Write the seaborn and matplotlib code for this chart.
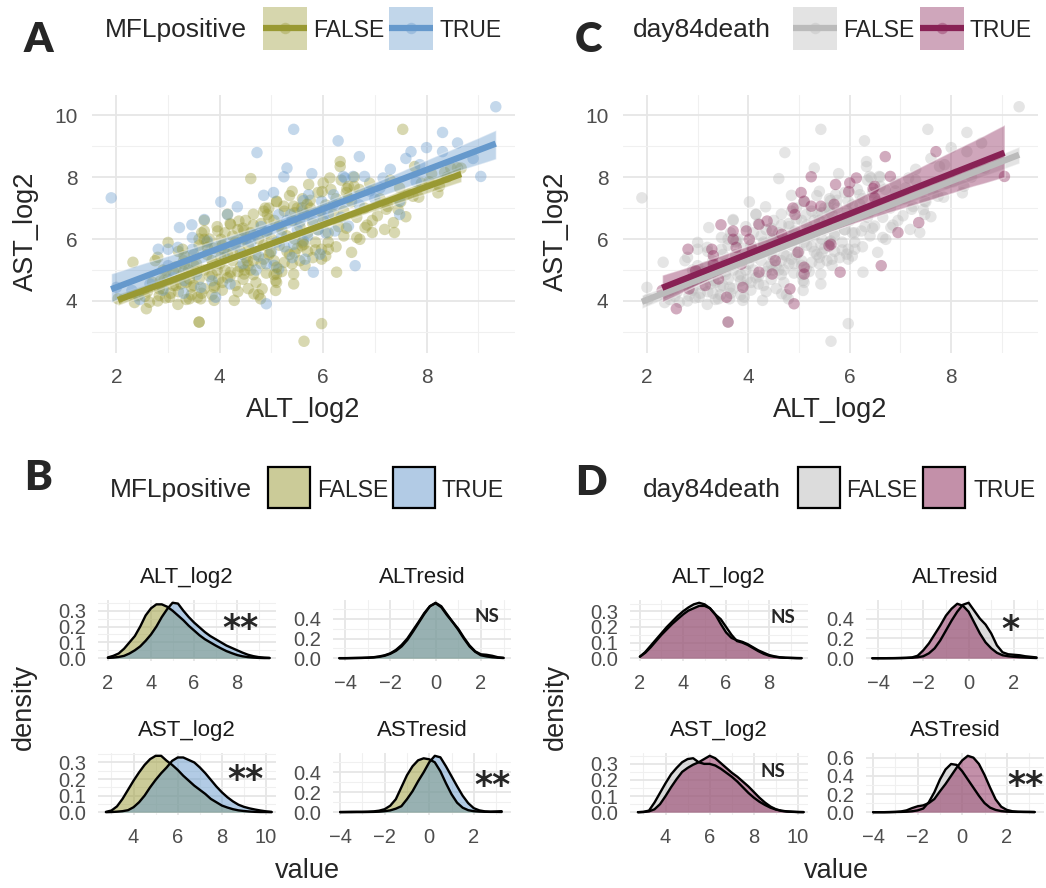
import numpy as np
import pandas as pd
import matplotlib
matplotlib.use("Agg")
import matplotlib.pyplot as plt
import seaborn as sns
from matplotlib.patches import Rectangle
from matplotlib.collections import PolyCollection
from matplotlib.colors import to_rgba
from matplotlib.ticker import MultipleLocator

# ---------------- scatter data: (ALT_log2, AST_log2) per patient group ----------------
# MFLpositive FALSE, day84death FALSE
ff_points = [
    (7.54, 9.54), (6.33, 8.34), (4.60, 7.95), (7.77, 8.34), (8.67, 8.29), (8.22, 7.49),
    (7.22, 6.96), (7.60, 6.72), (7.19, 6.31), (7.38, 6.21), (6.81, 6.37), (6.71, 5.99),
    (6.55, 5.57), (6.26, 4.93), (5.97, 5.67), (6.10, 5.67), (5.97, 5.35), (5.97, 3.27),
    (5.63, 2.70), (3.60, 3.32), (2.32, 5.25), (3.00, 5.89), (2.80, 5.41), (5.43, 4.55),
    (5.43, 4.87), (5.08, 4.34), (4.79, 4.07), (4.66, 4.23), (4.28, 4.02), (3.89, 4.02),
    (3.63, 4.07), (3.41, 4.07), (3.19, 3.89), (3.03, 4.12), (2.83, 4.18), (2.64, 3.96),
    (2.42, 4.18), (2.03, 4.07), (5.08, 4.66), (7.48, 7.65), (8.25, 7.70), (8.47, 8.29),
    (7.74, 7.38), (6.33, 8.50), (5.40, 7.54), (5.59, 7.01),
    (2.60, 4.30), (2.70, 4.60), (2.80, 4.00), (2.90, 4.40), (2.90, 5.00), (3.00, 4.70),
    (2.75, 5.30), (2.95, 4.10), (3.10, 4.50), (3.15, 5.10), (3.20, 4.30), (3.25, 4.80),
    (3.30, 5.30), (3.35, 4.60), (3.40, 5.00), (3.45, 4.20), (3.50, 5.50), (3.20, 5.60),
    (3.35, 4.05), (3.45, 4.90), (3.10, 4.95), (3.50, 4.50), (3.55, 5.20), (3.60, 4.70),
    (3.60, 5.80), (3.65, 6.20), (3.70, 4.40), (3.70, 5.00), (3.75, 5.50), (3.80, 4.80),
    (3.80, 6.00), (3.85, 5.30), (3.90, 4.50), (3.90, 5.70), (3.95, 6.40), (3.95, 5.00),
    (3.60, 6.00), (3.70, 6.60), (3.85, 4.20), (3.98, 4.70), (3.55, 4.95), (3.75, 5.90),
    (4.00, 5.20), (4.05, 5.80), (4.05, 4.60), (4.10, 6.20), (4.10, 5.00), (4.15, 5.50),
    (4.20, 4.80), (4.20, 6.50), (4.25, 5.30), (4.30, 5.90), (4.30, 4.50), (4.35, 6.30),
    (4.40, 5.10), (4.40, 5.60), (4.45, 6.00), (4.45, 4.70), (4.50, 6.60), (4.50, 5.40),
    (4.15, 6.80), (4.35, 4.30), (4.25, 6.10), (4.48, 5.00), (4.55, 5.80), (4.60, 5.00),
    (4.60, 6.20), (4.65, 6.80), (4.70, 5.50), (4.70, 4.60), (4.75, 6.00), (4.80, 5.20),
    (4.80, 6.50), (4.85, 5.80), (4.90, 4.90), (4.90, 6.20), (4.95, 5.50), (4.95, 7.00),
    (4.55, 4.40), (4.75, 4.20), (4.85, 6.90), (4.65, 5.30), (5.00, 6.00), (5.05, 5.30),
    (5.05, 6.60), (5.10, 7.20), (5.15, 5.80), (5.20, 6.30), (5.20, 4.95), (5.25, 6.90),
    (5.30, 5.60), (5.30, 6.10), (5.35, 7.40), (5.40, 6.60), (5.40, 5.20), (5.45, 6.00),
    (5.50, 7.00), (5.50, 5.70), (5.10, 4.60), (5.35, 5.50), (5.55, 6.40), (5.60, 7.30),
    (5.60, 5.90), (5.65, 6.80), (5.70, 6.20), (5.70, 5.60), (5.75, 7.00), (5.80, 6.50),
    (5.85, 5.90), (5.90, 7.50), (5.90, 6.30), (5.95, 6.90), (5.55, 5.30), (5.80, 5.40),
    (6.00, 6.60), (6.05, 7.10), (6.10, 6.20), (6.15, 7.60), (6.20, 6.80), (6.25, 7.30),
    (6.30, 6.40), (6.35, 7.90), (6.40, 6.90), (6.45, 7.50), (6.10, 5.90), (6.40, 6.10),
    (6.55, 7.20), (6.60, 8.00), (6.65, 6.70), (6.70, 7.60), (6.80, 7.00), (6.90, 7.80),
    (6.95, 6.60), (6.60, 7.70), (7.10, 7.30), (7.30, 7.90), (7.50, 7.20), (7.90, 7.80),
    (8.10, 8.10), (8.40, 8.00), (8.60, 8.30),
    (3.05, 4.25), (3.25, 4.55), (3.45, 4.45), (3.65, 4.25), (3.85, 4.85), (4.05, 4.35),
    (4.15, 4.75), (4.35, 4.95), (4.55, 5.15), (4.65, 4.85), (4.85, 5.35), (5.05, 4.85),
    (5.25, 5.25), (5.45, 5.55), (5.65, 5.15), (5.85, 5.65), (6.05, 5.45), (6.25, 5.75),
    (6.45, 6.35), (6.65, 6.05), (6.85, 6.45), (7.05, 6.75), (7.25, 7.05), (7.45, 6.95),
    (7.65, 7.45), (7.85, 7.35), (8.05, 7.85), (8.35, 8.15), (4.25, 5.55), (4.45, 6.35),
    (4.65, 6.45), (4.95, 6.65), (5.15, 6.45), (5.45, 6.85), (5.75, 7.25), (3.50, 5.15),
    (3.30, 4.95), (2.85, 4.65), (2.55, 4.15), (2.35, 3.95),
]
# MFLpositive TRUE, day84death FALSE
tf_points = [
    (1.90, 7.33), (5.43, 9.54), (9.34, 10.27), (8.31, 9.44), (6.29, 9.17), (4.72, 8.79),
    (8.31, 8.82), (5.30, 8.29), (5.78, 8.11), (6.39, 8.02), (4.02, 7.20), (4.34, 7.04),
    (4.85, 7.41), (3.70, 6.63), (3.22, 6.37), (3.00, 5.67), (3.47, 5.67), (3.19, 5.73),
    (3.76, 5.94), (5.62, 7.24), (5.72, 7.43), (5.97, 7.22), (6.20, 7.43), (6.42, 7.97),
    (6.58, 8.02), (7.16, 7.97), (7.48, 7.22), (7.48, 6.79), (6.49, 6.42), (3.92, 4.12),
    (5.43, 5.83), (4.92, 6.26), (4.44, 5.51), (5.14, 6.79), (5.37, 6.79), (6.00, 6.69),
    (6.23, 6.26), (5.94, 5.51), (4.15, 6.79), (3.47, 6.05), (3.31, 4.66), (2.00, 4.44),
    (3.63, 4.44), (5.62, 5.94), (7.10, 7.65), (6.20, 7.12), (7.87, 8.40), (5.14, 5.03),
    (3.00, 5.14), (4.60, 5.90), (4.80, 6.40), (5.00, 5.60), (5.20, 6.10), (5.30, 6.60),
    (5.50, 6.30), (5.60, 6.90), (5.80, 6.60), (4.90, 5.20), (5.10, 5.90), (5.40, 5.40),
    (5.70, 6.10), (4.50, 6.00), (5.90, 6.30), (6.10, 6.80), (4.30, 5.80), (4.10, 5.40),
    (4.70, 5.00), (5.25, 5.75), (5.55, 6.55),
    (2.45, 4.05), (2.65, 4.55), (2.90, 4.35), (3.10, 4.75), (3.30, 4.25), (3.55, 4.85),
    (3.85, 4.65), (4.20, 4.55), (4.45, 5.20), (4.75, 5.45), (5.05, 5.15), (5.65, 5.35),
    (6.05, 6.20), (6.35, 6.70), (6.70, 7.10), (7.00, 7.30), (7.30, 8.25), (7.60, 8.60),
    (8.00, 8.95), (8.60, 9.10), (8.90, 8.60), (6.90, 7.55), (7.80, 7.85),
]
# MFLpositive FALSE, day84death TRUE
ft_points = [
    (5.72, 7.76), (6.00, 7.81), (6.13, 7.97), (6.49, 7.70), (6.49, 7.33), (5.10, 7.22),
    (5.24, 7.06), (5.43, 7.06), (4.88, 7.00), (4.92, 6.79), (5.69, 7.12), (6.95, 6.21),
    (7.36, 6.53), (5.59, 5.78), (4.98, 5.57), (5.10, 5.09), (4.82, 4.39), (4.53, 5.30),
    (4.47, 4.87), (4.21, 4.93), (3.89, 4.44), (3.60, 3.32), (3.57, 4.12), (3.41, 4.71),
    (3.31, 5.19), (3.31, 5.46), (3.28, 5.67), (3.70, 6.26), (3.70, 5.99), (3.96, 6.26),
    (4.02, 5.99), (4.21, 6.47), (4.37, 6.58), (4.47, 6.26), (4.08, 5.67), (4.02, 5.41),
    (3.76, 5.73), (2.96, 4.98), (2.92, 4.66), (2.83, 4.39), (2.58, 3.75), (3.15, 4.50),
    (3.86, 5.19), (5.10, 4.87), (5.98, 7.53), (6.46, 7.63), (5.63, 5.83),
]
# MFLpositive TRUE, day84death TRUE
tt_points = [
    (9.05, 8.02), (7.70, 8.82), (6.70, 8.66), (5.24, 8.01), (6.80, 8.02), (5.04, 7.50),
    (6.62, 5.14), (5.81, 4.93), (4.90, 3.91), (3.46, 6.46), (4.66, 6.15), (2.81, 5.67),
    (2.30, 4.34),
]

# ---------------- density curves (value grid, density per group) ----------------
alt_grid = [2.0, 2.25, 2.5, 2.75, 3.0, 3.25, 3.5, 3.75, 4.0, 4.25, 4.5, 4.75, 5.0, 5.25, 5.5,
            5.75, 6.0, 6.25, 6.5, 6.75, 7.0, 7.25, 7.5, 7.75, 8.0, 8.25, 8.5, 8.75, 9.0, 9.25, 9.5]
ast_grid = [2.75, 3.0, 3.25, 3.5, 3.75, 4.0, 4.25, 4.5, 4.75, 5.0, 5.25, 5.5, 5.75, 6.0, 6.25,
            6.5, 6.75, 7.0, 7.25, 7.5, 7.75, 8.0, 8.25, 8.5, 8.75, 9.0, 9.25, 9.5, 9.75, 10.0, 10.25]
altres_grid = [-4.25, -4.0, -3.75, -3.5, -3.25, -3.0, -2.75, -2.5, -2.25, -2.0, -1.75, -1.5,
               -1.25, -1.0, -0.75, -0.5, -0.25, 0.0, 0.25, 0.5, 0.75, 1.0, 1.25, 1.5, 1.75,
               2.0, 2.25, 2.5, 2.75, 3.0]
astres_grid = [-4.0, -3.75, -3.5, -3.25, -3.0, -2.75, -2.5, -2.25, -2.0, -1.75, -1.5, -1.25,
               -1.0, -0.75, -0.5, -0.25, 0.0, 0.25, 0.5, 0.75, 1.0, 1.25, 1.5, 1.75, 2.0,
               2.25, 2.5, 2.75, 3.0, 3.25]

# panel B (MFLpositive)
b_alt_false = [.005, .015, .03, .06, .10, .14, .20, .27, .315, .34, .34, .325, .30, .27, .24, .205,
               .175, .145, .12, .10, .08, .062, .045, .032, .02, .012, .007, .004, .002, .001, .001]
b_alt_true = [.002, .004, .008, .015, .03, .05, .075, .11, .15, .20, .26, .31, .35, .345, .30, .26,
              .225, .195, .165, .14, .12, .10, .08, .065, .05, .035, .022, .013, .007, .004, .002]
b_ast_false = [.002, .01, .035, .08, .135, .19, .24, .285, .32, .34, .34, .31, .285, .255, .22, .19,
               .16, .135, .11, .08, .06, .04, .028, .018, .011, .007, .004, .002, .001, .001, 0]
b_ast_true = [0, .001, .003, .006, .012, .03, .06, .10, .15, .195, .235, .27, .31, .33, .33, .315,
              .30, .27, .235, .195, .155, .12, .09, .065, .045, .032, .023, .016, .01, .005, .002]
b_altres_false = [.001, .001, .002, .003, .004, .006, .01, .018, .03, .05, .085, .135, .20, .285, .37,
                  .46, .53, .56, .52, .44, .37, .30, .21, .13, .07, .04, .035, .025, .01, .004]
b_altres_true = [0, 0, .001, .002, .003, .005, .008, .014, .025, .045, .075, .12, .185, .27, .36,
                 .45, .53, .565, .53, .45, .37, .29, .20, .12, .065, .03, .018, .01, .005, .002]
b_astres_false = [.002, .003, .004, .004, .004, .005, .008, .015, .03, .065, .13, .25, .37, .46, .52,
                  .54, .53, .50, .41, .29, .18, .095, .045, .02, .01, .006, .004, .003, .003, .002]
b_astres_true = [0, 0, 0, .001, .001, .002, .003, .005, .01, .018, .035, .06, .13, .21, .31, .40,
                 .50, .565, .55, .46, .36, .26, .165, .09, .04, .018, .008, .005, .007, .01]

# panel D (day84death)
d_alt_false = [.01, .04, .08, .12, .16, .20, .235, .27, .30, .325, .345, .355, .345, .32, .28, .25,
               .20, .15, .11, .10, .085, .065, .045, .028, .016, .009, .005, .003, .002, .001, .001]
d_alt_true = [.01, .035, .07, .11, .15, .185, .22, .25, .28, .305, .32, .335, .335, .32, .28, .22,
              .165, .13, .115, .105, .09, .07, .05, .035, .02, .012, .006, .003, .002, .001, 0]
d_ast_false = [0, .002, .01, .06, .12, .18, .235, .275, .31, .33, .335, .31, .30, .30, .29, .27,
               .245, .22, .19, .155, .12, .09, .065, .045, .028, .016, .009, .005, .003, .001, .001]
d_ast_true = [0, .001, .005, .018, .05, .10, .155, .205, .25, .275, .295, .31, .33, .35, .335, .305,
              .275, .245, .22, .19, .16, .125, .09, .06, .035, .018, .008, .004, .002, .001, 0]
d_altres_false = [0, 0, 0, .001, .001, .002, .003, .005, .01, .02, .05, .10, .18, .28, .38, .47,
                  .54, .56, .48, .40, .34, .25, .13, .06, .04, .035, .03, .02, .014, .008]
d_altres_true = [0, 0, 0, 0, .001, .002, .004, .008, .025, .08, .15, .24, .33, .43, .50, .55,
                 .53, .47, .36, .25, .16, .10, .055, .03, .02, .014, .01, .007, .004, .002]
d_astres_false = [0, 0, 0, .001, .002, .003, .005, .01, .02, .04, .11, .22, .36, .47, .53, .52,
                  .45, .36, .27, .18, .10, .05, .025, .012, .006, .004, .003, .003, .003, .002]
d_astres_true = [0, 0, 0, .001, .003, .008, .02, .045, .065, .075, .10, .145, .23, .31, .40, .49,
                 .57, .62, .60, .53, .41, .27, .14, .06, .025, .01, .005, .003, .002, .001]

facet_names = ["ALT_log2", "ALTresid", "AST_log2", "ASTresid"]
b_marks = ["**", "NS", "**", "**"]
d_marks = ["NS", "*", "NS", "**"]

mfl_colors = {"FALSE": "#999933", "TRUE": "#6699CC"}
death_colors = {"FALSE": "#BBBBBB", "TRUE": "#882255"}

# ---------------- long table for the scatter panels ----------------
rows = []
for pts, mfl, death in [(ff_points, "FALSE", "FALSE"), (tf_points, "TRUE", "FALSE"),
                        (ft_points, "FALSE", "TRUE"), (tt_points, "TRUE", "TRUE")]:
    for a, s in pts:
        rows.append({"ALT_log2": a, "AST_log2": s, "MFLpositive": mfl, "day84death": death})
df = pd.DataFrame(rows)

W, H = 1046, 888
sns.set_style("white")
plt.rcParams["font.family"] = ["Liberation Sans", "DejaVu Sans"]
fig = plt.figure(figsize=(W / 100, H / 100), dpi=100)


def px_axes(l, t, r, b):
    return fig.add_axes([l / W, 1 - b / H, (r - l) / W, (b - t) / H])


def style(ax, xmaj, ymaj, size, xpad, ypad):
    ax.xaxis.set_major_locator(MultipleLocator(xmaj))
    ax.xaxis.set_minor_locator(MultipleLocator(xmaj / 2))
    ax.yaxis.set_major_locator(MultipleLocator(ymaj))
    ax.yaxis.set_minor_locator(MultipleLocator(ymaj / 2))
    ax.grid(which="major", color="#E6E6E6", lw=1.3)
    ax.grid(which="minor", color="#F0F0F0", lw=0.8)
    ax.set_axisbelow(True)
    for sp in ax.spines.values():
        sp.set_visible(False)
    ax.tick_params(which="both", length=0, labelsize=size, labelcolor="#4D4D4D")
    ax.tick_params(axis="x", pad=xpad)
    ax.tick_params(axis="y", pad=ypad)
    ax.set_xlabel("")
    ax.set_ylabel("")


def scatter_panel(ax, group, colors):
    order = ["FALSE", "TRUE"]
    sns.scatterplot(data=df, x="ALT_log2", y="AST_log2", hue=group, hue_order=order,
                    palette=colors, s=68, alpha=0.38, edgecolor="none", legend=False, ax=ax)
    for lvl in order:
        sub = df[df[group] == lvl]
        sns.regplot(data=sub, x="ALT_log2", y="AST_log2", scatter=False, color=colors[lvl],
                    seed=1, ax=ax, line_kws={"linewidth": 4.5, "solid_capstyle": "butt"})
    for coll in ax.collections:
        if isinstance(coll, PolyCollection):
            coll.set_alpha(0.4)
    x0, x1 = df["ALT_log2"].min(), df["ALT_log2"].max()
    y0, y1 = df["AST_log2"].min(), df["AST_log2"].max()
    ax.set_xlim(x0 - 0.05 * (x1 - x0), x1 + 0.05 * (x1 - x0))
    ax.set_ylim(y0 - 0.05 * (y1 - y0), y1 + 0.05 * (y1 - y0))
    style(ax, 2, 2, 15, 10.5, 10.5)


def density_facet(ax, grid, curves, colors, xlim, ystep):
    for dens, col in zip(curves, colors):
        ax.fill_between(grid, dens, color=col, alpha=0.5, lw=0)
        sns.lineplot(x=grid, y=dens, color="black", lw=1.7, ax=ax, sort=False)
    top = max(max(c) for c in curves)
    ax.set_xlim(*xlim)
    ax.set_ylim(-0.05 * top, 1.05 * top)
    style(ax, 2, ystep, 14.5, 9, 8.5)


# ---------------- panels A and C ----------------
axA = px_axes(92, 95, 515, 353)
scatter_panel(axA, "MFLpositive", mfl_colors)
axC = px_axes(623, 95, 1038, 353)
scatter_panel(axC, "day84death", death_colors)

# ---------------- panels B and D ----------------
grids = [alt_grid, altres_grid, ast_grid, astres_grid]
xlims = [(1.54, 9.8), (-4.53, 3.33), (2.39, 10.45), (-4.32, 3.67)]
ysteps = [0.1, 0.2, 0.1, 0.2]
b_curves = [(b_alt_false, b_alt_true), (b_altres_false, b_altres_true),
            (b_ast_false, b_ast_true), (b_astres_false, b_astres_true)]
d_curves = [(d_alt_false, d_alt_true), (d_altres_false, d_altres_true),
            (d_ast_false, d_ast_true), (d_astres_false, d_astres_true)]
cells = [(0, 600, 661), (1, 600, 661), (0, 753, 815), (1, 753, 815)]

ov = fig.add_axes([0, 0, 1, 1], zorder=10)
ov.set_xlim(0, W)
ov.set_ylim(H, 0)
ov.axis("off")

mark_pos_b = [(240, 622), (487, 616), (245, 773), (492, 779)]
mark_pos_d = [(783, 617), (1010, 623), (773, 771), (1025, 779)]

for lefts, curves, colors, marks, mpos in [
        ((98, 333), b_curves, mfl_colors, b_marks, mark_pos_b),
        ((630, 866), d_curves, death_colors, d_marks, mark_pos_d)]:
    for i, (col, top, bot) in enumerate(cells):
        l = lefts[col]
        ax = px_axes(l, top, l + 178, bot)
        density_facet(ax, grids[i], curves[i], [colors["FALSE"], colors["TRUE"]], xlims[i], ysteps[i])
        ov.text(l + 89, top - 17, facet_names[i], ha="center", va="baseline", fontsize=16,
                color="#1A1A1A")
        mx, my = mpos[i]
        if marks[i] == "NS":
            ov.text(mx, my, "NS", ha="center", va="center", fontsize=13.5, fontweight="bold",
                    family=["Lato", "DejaVu Sans"])
        else:
            ov.text(mx, my + 7, marks[i], ha="center", va="center", fontsize=25,
                    fontweight="bold", family=["DejaVu Sans"])

# ---------------- axis titles ----------------
for cx, ycx in [(303, 26), (830, 556)]:
    ov.text(cx, 417, "ALT_log2", ha="center", va="baseline", fontsize=19.5)
    ov.text(ycx, 231, "AST_log2", ha="center", va="center", rotation=90, fontsize=19.5)
for cx, ycx in [(307, 24), (836, 556)]:
    ov.text(cx, 878, "value", ha="center", va="baseline", fontsize=19.5)
    ov.text(ycx, 707, "density", ha="center", va="center", rotation=90, fontsize=19.5)

# ---------------- panel letters ----------------
for letter, x, y in [("A", 24, 52), ("C", 575, 52), ("B", 24, 490), ("D", 575, 495)]:
    ov.text(x, y, letter, ha="left", va="baseline", fontsize=30, fontweight="heavy",
            family=["Lato", "DejaVu Sans"])


# ---------------- legends ----------------
def scatter_legend(title, tx, keys, colors, base):
    ov.text(tx, base, title, ha="left", va="baseline", fontsize=19)
    for (kx, lx), lvl in zip(keys, ["FALSE", "TRUE"]):
        c = colors[lvl]
        ov.add_patch(Rectangle((kx, 7), 44, 43, facecolor=c, alpha=0.4, lw=0))
        ov.plot([kx, kx + 44], [28.5, 28.5], color=c, lw=4.5, solid_capstyle="butt")
        ov.scatter([kx + 22], [28.5], s=68, color=c, alpha=0.38, lw=0)
        ov.text(lx, base, lvl, ha="left", va="baseline", fontsize=16.5)


def density_legend(title, tx, keys, colors, base, ktop):
    ov.text(tx, base, title, ha="left", va="baseline", fontsize=19)
    for (kx, lx), lvl in zip(keys, ["FALSE", "TRUE"]):
        ov.add_patch(Rectangle((kx, ktop), 42, 41, facecolor=to_rgba(colors[lvl], 0.5),
                               edgecolor="black", lw=1.6))
        ov.text(lx, base, lvl, ha="left", va="baseline", fontsize=16.5)


scatter_legend("MFLpositive", 105, [(263, 313), (389, 440)], mfl_colors, 37)
scatter_legend("day84death", 633, [(793, 843), (920, 970)], death_colors, 37)
density_legend("MFLpositive", 110, [(268, 317), (393, 442)], mfl_colors, 497, 467)
density_legend("day84death", 643, [(798, 846), (923, 974)], death_colors, 497, 467)

fig.savefig("out.png", dpi=100, facecolor="white")
